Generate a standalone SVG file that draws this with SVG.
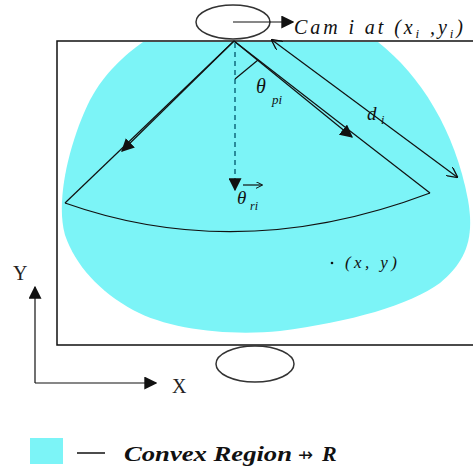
<svg xmlns="http://www.w3.org/2000/svg" width="473" height="468" viewBox="0 0 473 468">
<defs>
<style>
.ln{stroke:#111;stroke-width:1.2;fill:none}
.rect{stroke:#111;stroke-width:1.5;fill:none}
.it{font-family:"Liberation Serif",serif;font-style:italic;fill:#111}
.sf{font-family:"Liberation Serif",serif;fill:#222}
</style>
<marker id="fhb" viewBox="0 0 10 10" refX="9" refY="5" markerWidth="13" markerHeight="13" markerUnits="userSpaceOnUse" orient="auto">
<path d="M0,0 L10,5 L0,10 Z" fill="#111"/>
</marker>
<marker id="oh" viewBox="0 0 10 10" refX="9" refY="5" markerWidth="11" markerHeight="11" markerUnits="userSpaceOnUse" orient="auto-start-reverse">
<path d="M0,0 L10,5 L0,10" fill="none" stroke="#111" stroke-width="1.2"/>
</marker>
<marker id="sh" viewBox="0 0 10 10" refX="9" refY="5" markerWidth="7" markerHeight="7" markerUnits="userSpaceOnUse" orient="auto">
<path d="M0,0 L10,5 L0,10" fill="none" stroke="#111" stroke-width="1.4"/>
</marker>
</defs>
<rect width="473" height="468" fill="#fff"/>

<g id="region">
<path d="M143,42 L378,42 C420,75 455,130 468,200 C475,240 465,262 440,283 C410,305 350,322 280,331 C230,336 170,330 133,310 C100,292 75,265 65,235 C55,200 70,140 90,100 C105,72 125,55 143,42 Z" fill="#7cf4f7"/>
</g>

<g id="area">
<path class="rect" d="M480,41 L57,41 L57,345 L480,345"/>
</g>

<g id="cam-top">
<ellipse cx="233" cy="22" rx="37" ry="17" fill="none" stroke="#333" stroke-width="1.5"/>
</g>
<g id="cam-bottom">
<ellipse cx="255" cy="364" rx="39" ry="18" fill="none" stroke="#333" stroke-width="1.5"/>
</g>

<g id="connectors">
<line class="ln" x1="233" y1="22" x2="293" y2="22" marker-end="url(#fhb)"/>
<line class="ln" x1="234" y1="41" x2="65" y2="203"/>
<line class="ln" x1="234" y1="41" x2="122" y2="151" marker-end="url(#fhb)"/>
<line class="ln" x1="234" y1="41" x2="430" y2="193"/>
<line class="ln" x1="234" y1="41" x2="352" y2="137" marker-end="url(#fhb)"/>
<path class="ln" d="M65,203 Q240,265 430,193"/>
<line x1="235" y1="43" x2="235" y2="190" stroke="#2a8c9c" stroke-width="2" stroke-dasharray="5,4" marker-end="url(#fhb)"/>
<line class="ln" x1="235" y1="79" x2="258" y2="60"/>
<line class="ln" x1="272" y1="40" x2="457" y2="177" marker-start="url(#oh)" marker-end="url(#oh)"/>
<line class="ln" x1="243" y1="185" x2="262" y2="185" marker-end="url(#sh)"/>
<line class="ln" x1="35" y1="383" x2="35" y2="287" marker-end="url(#fhb)"/>
<line class="ln" x1="35" y1="383" x2="156" y2="383" marker-end="url(#fhb)"/>
</g>

<g id="labels">
<text class="it" x="294" y="34" font-size="20" textLength="169" lengthAdjust="spacing">Cam i at (x<tspan font-size="13" dy="4">i</tspan><tspan dy="-4"> ,y</tspan><tspan font-size="13" dy="4">i</tspan><tspan dy="-4">)</tspan></text>
<text class="it" x="256" y="93" font-size="20">θ</text>
<text class="it" x="272" y="104" font-size="13">pi</text>
<text class="it" x="237" y="204" font-size="19">θ</text>
<text class="it" x="250" y="210" font-size="12">ri</text>
<text class="it" x="367" y="120" font-size="19">d</text>
<text class="it" x="381" y="124" font-size="12">i</text>
<circle cx="332" cy="263" r="1.3" fill="#111"/>
<text class="it" x="345" y="268" font-size="17" textLength="52" lengthAdjust="spacing">(x, y)</text>
<text class="sf" x="13" y="280" font-size="20">Y</text>
<text class="sf" x="172" y="393" font-size="20">X</text>
</g>

<g id="legend">
<rect x="30" y="438" width="33" height="26" fill="#7cf4f7"/>
<line x1="77" y1="453" x2="105" y2="453" stroke="#111" stroke-width="1.5"/>
<text class="it" x="124" y="461" font-size="22" font-weight="bold" textLength="168" lengthAdjust="spacingAndGlyphs">Convex Region</text>
<text x="298" y="461" font-family="DejaVu Sans,sans-serif" font-size="18" fill="#111">⇸</text>
<text class="it" x="322" y="461" font-size="22" font-weight="bold">R</text>
</g>
</svg>
